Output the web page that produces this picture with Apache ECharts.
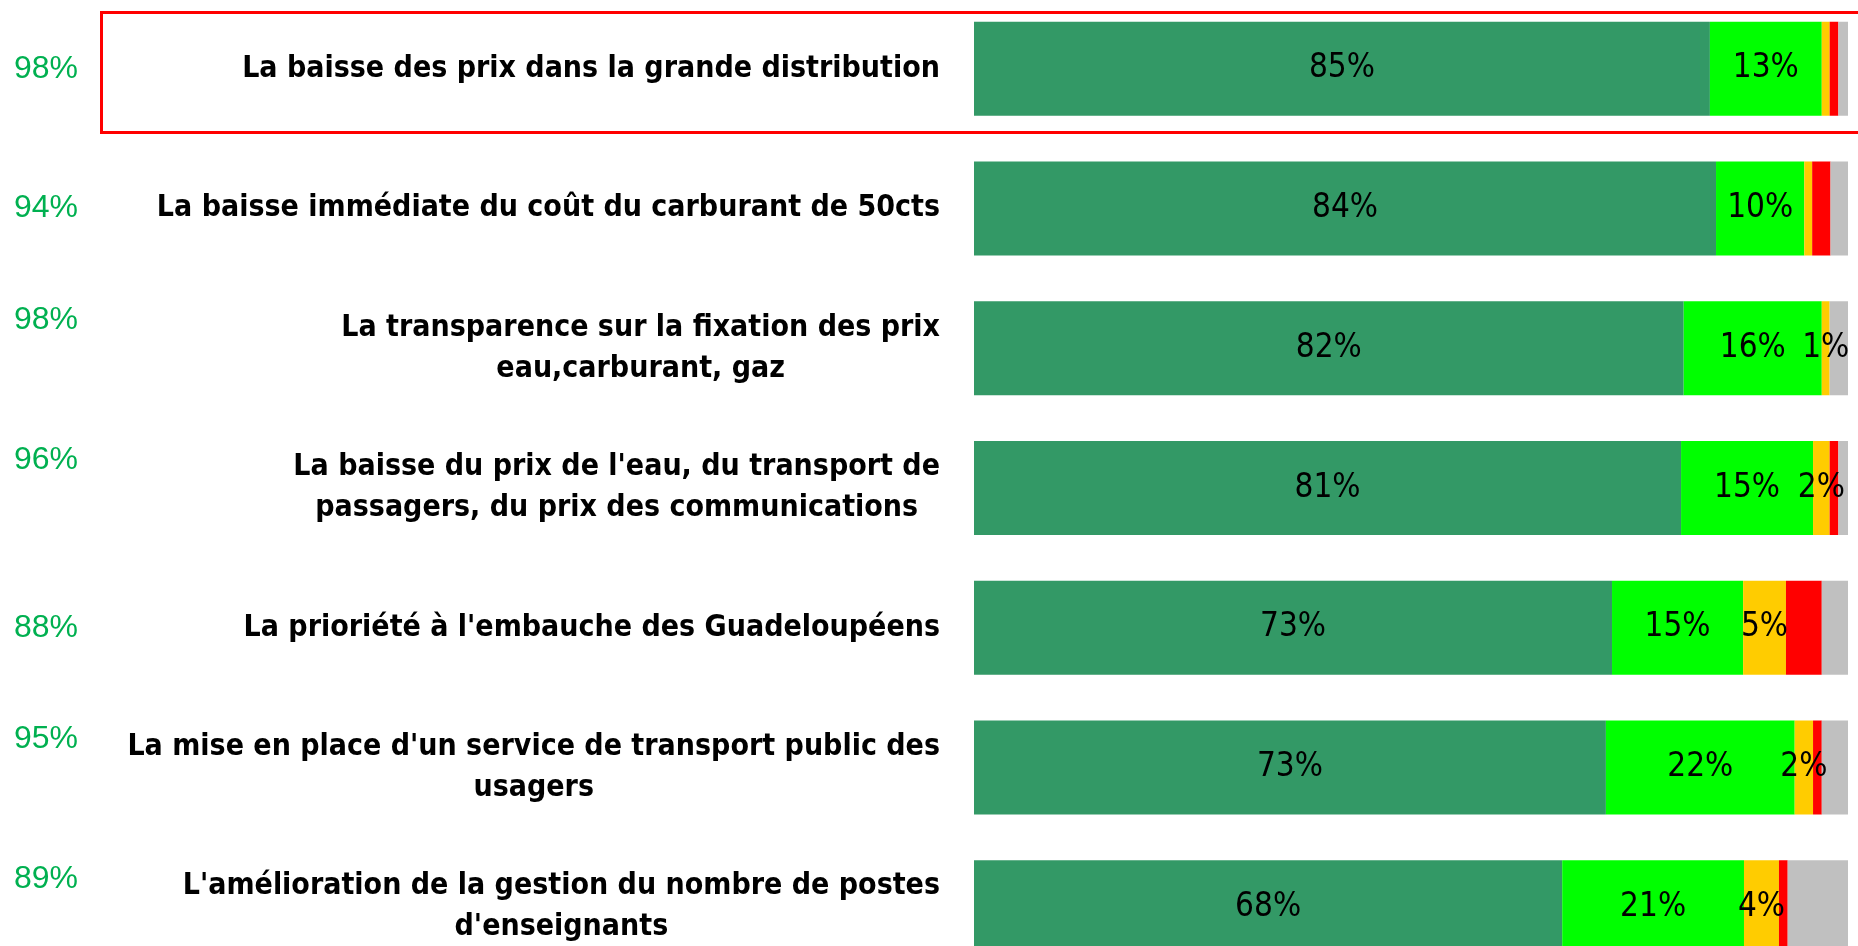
<!DOCTYPE html>
<html>
<head>
<meta charset="utf-8">
<script src="https://cdn.jsdelivr.net/npm/echarts@6/dist/echarts.min.js"></script>
<style>
  html, body { margin: 0; padding: 0; background: #fff; overflow: hidden; }
  #chart { width: 1858px; height: 946px; }
</style>
</head>
<body>
<div id="chart"></div>
<script>
const categories = [
  "La baisse des prix dans la grande distribution",
  "La baisse immédiate du coût du carburant de 50cts",
  "La transparence sur la fixation des prix\neau,carburant, gaz",
  "La baisse du prix de l'eau, du transport de\npassagers, du prix des communications",
  "La prioriété à l'embauche des Guadeloupéens",
  "La mise en place d'un service de transport public des\nusagers",
  "L'amélioration de la gestion du nombre de postes\nd'enseignants"
];
const darkGreen = [84.2, 84.9, 81.2, 80.9, 73.0, 72.3, 67.3];
const lightGreen = [12.8, 10.1, 15.8, 15.1, 15.0, 21.6, 20.8];
const yellow = [0.9, 0.9, 0.9, 1.9, 4.9, 2.1, 4.0];
const red = [1.0, 2.1, 0, 1.0, 4.1, 1.0, 1.0];
const grey = [1.1, 2.0, 2.1, 1.1, 3.0, 3.0, 6.9];

const darkLabels = ["85%", "84%", "82%", "81%", "73%", "73%", "68%"];
const greenLabels = ["13%", "10%", "16%", "15%", "15%", "22%", "21%"];
const yellowLabels = ["", "", "1%", "2%", "5%", "2%", "4%"];
const totals = ["98%", "94%", "98%", "96%", "88%", "95%", "89%"];

const condensed = "'DejaVu Sans Condensed', 'DejaVu Sans', sans-serif";

let myChart = echarts.init(document.getElementById("chart"));

function segLabel(texts) {
  return {
    show: true,
    position: "inside",
    color: "#000",
    fontFamily: condensed,
    fontSize: 33,
    formatter: (p) => texts[p.dataIndex]
  };
}

function seg(name, data, color, texts) {
  return {
    type: "bar",
    name: name,
    stack: "total",
    data: data,
    barWidth: 94,
    itemStyle: { color: color },
    label: texts ? segLabel(texts) : { show: false },
    emphasis: { disabled: true }
  };
}

let option = {
  animation: false,
  grid: {
    left: 974,
    right: 10,
    top: -1,
    height: 978,
    containLabel: false,
    outerBoundsMode: "none"
  },
  xAxis: { type: "value", min: 0, max: 100, show: false },
  yAxis: [
    {
      type: "category",
      data: categories,
      inverse: true,
      axisLine: { show: false },
      axisTick: { show: false },
      axisLabel: {
        margin: 34,
        align: "right",
        formatter: (v) => v.split("\n").map((s) => "{c|" + s + "}").join("\n"),
        rich: {
          c: {
            fontFamily: condensed,
            fontWeight: "bold",
            fontSize: 30,
            lineHeight: 41,
            color: "#000",
            align: "center"
          }
        }
      }
    },
    {
      type: "category",
      data: categories,
      inverse: true,
      position: "left",
      axisLine: { show: false },
      axisTick: { show: false },
      axisLabel: {
        margin: 960,
        align: "left",
        fontFamily: "'Liberation Sans', sans-serif",
        fontSize: 32,
        lineHeight: 56,
        color: "#00b050",
        formatter: (v, i) => totals[i] + (v.indexOf("\n") >= 0 ? "\n " : "")
      }
    }
  ],
  graphic: [
    {
      type: "rect",
      shape: { x: 101.5, y: 12.5, width: 1800, height: 120 },
      style: { fill: "none", stroke: "#ff0000", lineWidth: 3 },
      z: 100
    }
  ],
  series: [
    seg("Tout à fait", darkGreen, "#339966", darkLabels),
    seg("Plutôt", lightGreen, "#00ff00", greenLabels),
    seg("Plutôt pas", yellow, "#ffcc00", yellowLabels),
    seg("Pas du tout", red, "#ff0000", null),
    seg("NSP", grey, "#c0c0c0", null)
  ]
};
myChart.setOption(option);
</script>
</body>
</html>
